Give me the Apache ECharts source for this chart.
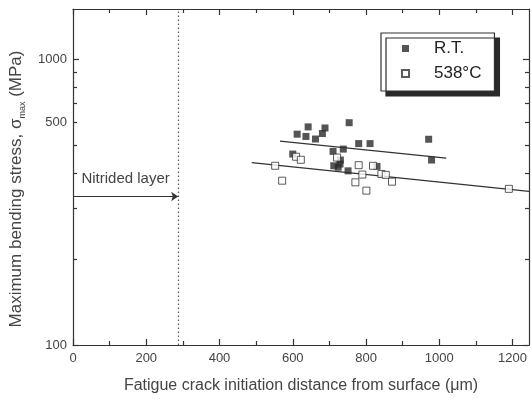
<!DOCTYPE html>
<html>
<head>
<meta charset="utf-8">
<script src="https://cdn.jsdelivr.net/npm/echarts@6/dist/echarts.min.js"></script>
<style>html,body{margin:0;padding:0;background:#fff}#c{width:531px;height:399px}</style>
</head>
<body>
<div id="c"></div>
<script>
// ---- data ----
const rtX = [600, 612, 642, 636, 662, 681, 688, 754, 780, 811, 971, 979, 710, 738, 730, 712, 724, 729, 751, 830];
const rtY = [466, 547, 580, 537, 526, 550, 575, 600, 507, 507, 525, 444, 476, 485, 444, 424, 419, 430, 407, 422];
const hotX = [552, 571, 609, 622, 721, 780, 790, 771, 801, 819, 842, 854, 871, 1190];
const hotY = [424, 376, 456, 445, 453, 426, 395, 371, 347, 424, 397, 394, 373, 352];
const rtFitX = [565, 1019];
const rtFitY = [517, 451];
const hotFitX = [488, 1245];
const hotFitY = [435, 345];
const layerDepth = 287;       // nitrided layer boundary (µm)
const layerArrowStress = 331; // stress level of the arrow
const xMajor = [0, 200, 400, 600, 800, 1000, 1200];
const xMinor = [100, 300, 500, 700, 900, 1100];
const yMajor = [100, 1000];
const yMinor = [200, 300, 400, 500, 600, 700, 800, 900];
const yLabelAt = [100, 600, 1000];
const yLabelText = ['100', '500', '1000'];
const legendNames = ['R.T.', '538°C'];

const X_MIN = 0, X_MAX = 1245, Y_MIN = 100, Y_MAX = 1500;
const INK = '#333';
const FONT = 'Liberation Sans, Arial, sans-serif';

const zip = (a, b) => a.map((v, i) => [v, b[i]]);

function xAxisDef(pos, ticks, len, withLine, withLabel) {
  return {
    type: 'value', position: pos, min: X_MIN, max: X_MAX,
    axisLine: { show: withLine, onZero: false, lineStyle: { color: INK, width: 1.2 } },
    axisTick: { show: true, inside: true, length: len, customValues: ticks, lineStyle: { color: INK, width: 1.2 } },
    axisLabel: withLabel ? {
      show: true, customValues: xMajor, margin: 7, fontSize: 13, color: '#444', fontFamily: FONT,
      formatter: v => String(Math.round(v))
    } : { show: false },
    splitLine: { show: false },
    name: withLabel ? 'Fatigue crack initiation distance from surface (\u03bcm)' : '',
    nameLocation: 'middle', nameGap: 33,
    nameTextStyle: { fontSize: 16, color: '#444', fontFamily: FONT }
  };
}
function yAxisDef(pos, ticks, len, withLine, withLabel) {
  return {
    type: 'log', logBase: 10, position: pos, min: Y_MIN, max: Y_MAX,
    axisLine: { show: withLine, onZero: false, lineStyle: { color: INK, width: 1.2 } },
    axisTick: { show: true, inside: true, length: len, customValues: ticks, lineStyle: { color: INK, width: 1.2 } },
    axisLabel: withLabel ? {
      show: true, customValues: yLabelAt, margin: 6, fontSize: 13, color: '#444', fontFamily: FONT,
      formatter: v => { const i = yLabelAt.findIndex(a => Math.abs(a - v) < 1e-6 * a); return i >= 0 ? yLabelText[i] : ''; }
    } : { show: false },
    splitLine: { show: false }
  };
}

const chart = echarts.init(document.getElementById('c'), null, { renderer: 'canvas' });
chart.setOption({
  backgroundColor: '#fff',
  animation: false,
  grid: { left: 73, right: 2, top: 9, bottom: 52, containLabel: false },
  xAxis: [
    xAxisDef('bottom', xMajor, 6, true, true),
    xAxisDef('bottom', xMinor, 4, false, false),
    xAxisDef('top', xMajor, 6, true, false),
    xAxisDef('top', xMinor, 4, false, false)
  ],
  yAxis: [
    yAxisDef('left', yMajor, 6, true, true),
    yAxisDef('left', yMinor, 4, false, false),
    yAxisDef('right', yMajor, 6, true, false),
    yAxisDef('right', yMinor, 4, false, false)
  ],
  legend: {
    data: legendNames,
    orient: 'vertical',
    left: 381, top: 33,
    padding: [7, 13, 9, 20],
    itemGap: 8,
    itemWidth: 7, itemHeight: 7,
    icon: 'rect',
    backgroundColor: '#fff',
    borderColor: INK, borderWidth: 1.2,
    shadowColor: '#2a2a2a', shadowBlur: 0, shadowOffsetX: 5, shadowOffsetY: 5,
    textStyle: { fontSize: 17, color: '#222', fontFamily: FONT, padding: [0, 0, 0, 20] }
  },
  graphic: [{
    type: 'text', x: 16, y: 189, rotation: Math.PI / 2,
    style: {
      text: '{a|Maximum bending stress, \u03c3}{b|max}{a| (MPa)}',
      align: 'center', verticalAlign: 'middle',
      rich: {
        a: { fontSize: 17, fontFamily: FONT, fill: '#444', color: '#444', lineHeight: 22, verticalAlign: 'middle' },
        b: { fontSize: 9, fontFamily: FONT, fill: '#444', color: '#444', lineHeight: 22, verticalAlign: 'bottom' }
      }
    }
  }],
  series: [
    {
      name: legendNames[0], type: 'scatter', symbol: 'rect', symbolSize: 7,
      itemStyle: { color: '#2b2b2b' },
      data: zip(rtX, rtY), z: 5
    },
    {
      name: legendNames[1], type: 'scatter', symbol: 'rect', symbolSize: 7,
      itemStyle: { color: '#fff', borderColor: INK, borderWidth: 1 },
      data: zip(hotX, hotY), z: 6
    },
    {
      name: 'rtFit', type: 'line', showSymbol: false, symbol: 'none',
      lineStyle: { color: INK, width: 1.3 },
      data: zip(rtFitX, rtFitY),
      markLine: {
        silent: true, symbol: 'none', animation: false,
        lineStyle: { color: '#555', width: 1.2, type: [1.5, 2.5] },
        label: { show: false },
        data: [{ xAxis: layerDepth }]
      }
    },
    {
      name: 'hotFit', type: 'line', showSymbol: false, symbol: 'none',
      lineStyle: { color: INK, width: 1.3 },
      data: zip(hotFitX, hotFitY),
      markLine: {
        silent: true, symbol: ['none', 'arrow'], symbolSize: 7, animation: false,
        lineStyle: { color: INK, width: 1.2, type: 'solid' },
        label: {
          show: true, position: 'insideMiddleTop', distance: 10,
          formatter: 'Nitrided layer', fontSize: 15, color: '#444', fontFamily: FONT
        },
        data: [[{ coord: [X_MIN, layerArrowStress] }, { coord: [layerDepth, layerArrowStress] }]]
      }
    }
  ]
});
</script>
</body>
</html>
